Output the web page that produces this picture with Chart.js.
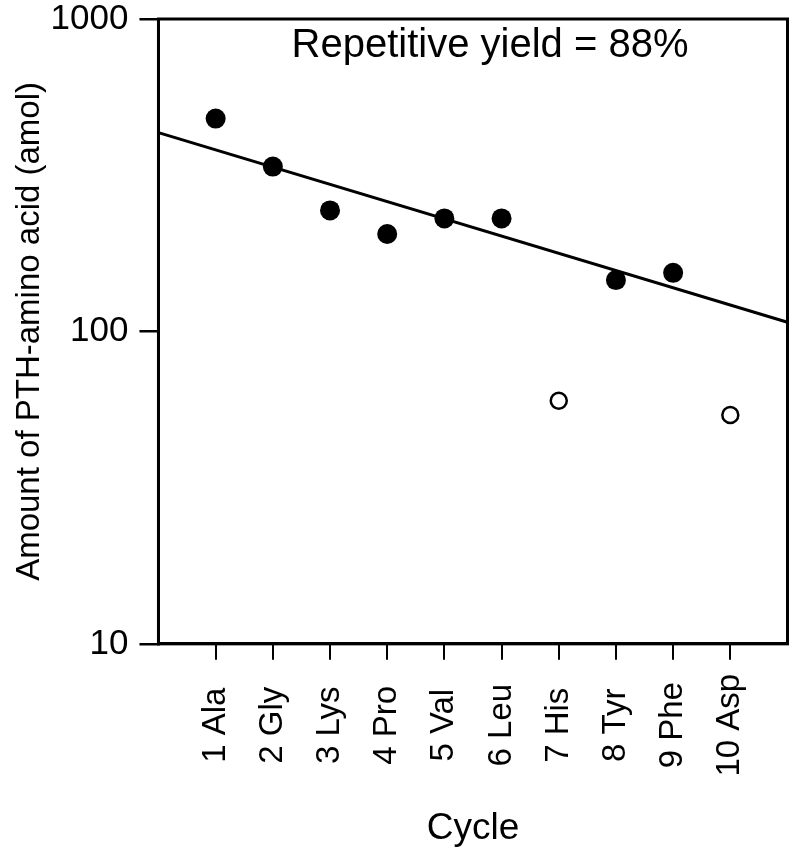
<!DOCTYPE html>
<html>
<head>
<meta charset="utf-8">
<script src="https://cdn.jsdelivr.net/npm/chart.js@4"></script>
<style>
  body { margin: 0; background: #fff; }
  #wrap { width: 798px; height: 857px; }
</style>
</head>
<body>
<div id="wrap"><canvas id="ex_chart"></canvas></div>
<script>
// data
const residues = ['1 Ala', '2 Gly', '3 Lys', '4 Pro', '5 Val', '6 Leu', '7 His', '8 Tyr', '9 Phe', '10 Asp'];
const cycles = [1, 2, 3, 4, 5, 6, 7, 8, 9, 10];
// filled circles (used in the fit)
const usedAmounts = [480, 337, 244, 205, 230, 230, null, 146, 154, null];
// open circles (left out of the fit)
const omittedAmounts = [null, null, null, null, null, null, 60, null, null, 54];
// regression line, repetitive yield 88%
const fitX = [0, 11];
const fitY = [433, 107];
const yTicks = [10, 100, 1000];

const FONT = 'Liberation Sans, Arial, sans-serif';
const X_TICK_FONT = '33px ' + FONT;
const X_TICK_LEN = 16;
const X_TICK_PAD = 14;

const toPoints = (xs, ys) => xs.map((x, i) => ({ x: x, y: ys[i] })).filter(p => p.y !== null);

// box around plot, annotation text, x labels centred on their own middle
const framePlugin = {
    id: 'frame',
    afterDraw(chart) {
        const { ctx, chartArea: a, scales } = chart;
        ctx.save();
        ctx.strokeStyle = '#000';
        ctx.lineWidth = 3;
        ctx.strokeRect(a.left, a.top, a.right - a.left, a.bottom - a.top);
        ctx.fillStyle = '#000';
        ctx.font = '40px ' + FONT;
        ctx.textAlign = 'center';
        ctx.textBaseline = 'middle';
        ctx.fillText('Repetitive yield = 88%', 490, a.top + 27);

        // rotated cycle labels, centred vertically like the original
        ctx.font = X_TICK_FONT;
        const widths = residues.map(r => ctx.measureText(r).width);
        const maxW = Math.max(...widths);
        const cy = a.bottom + X_TICK_LEN + X_TICK_PAD + maxW / 2;
        cycles.forEach((c, i) => {
            ctx.save();
            ctx.translate(scales.x.getPixelForValue(c), cy);
            ctx.rotate(-Math.PI / 2);
            ctx.textAlign = 'center';
            ctx.textBaseline = 'middle';
            ctx.fillText(residues[i], 0, 0);
            ctx.restore();
        });
        ctx.restore();
    }
};

const ctx = document.getElementById('ex_chart');

new Chart(ctx, {
    type: 'scatter',
    data: {
        datasets: [
            {
                label: 'fit',
                type: 'line',
                data: toPoints(fitX, fitY),
                borderColor: '#000',
                borderWidth: 3,
                pointRadius: 0,
                fill: false
            },
            {
                label: 'used',
                data: toPoints(cycles, usedAmounts),
                backgroundColor: '#000',
                borderColor: '#000',
                pointRadius: 10,
                borderWidth: 0
            },
            {
                label: 'omitted',
                data: toPoints(cycles, omittedAmounts),
                backgroundColor: '#fff',
                borderColor: '#000',
                pointRadius: 8,
                borderWidth: 2.5
            }
        ]
    },
    options: {
        responsive: true,
        maintainAspectRatio: false,
        animation: false,
        layout: { padding: { top: 19, right: 10, left: 4, bottom: 6 } },
        plugins: {
            legend: { display: false },
            tooltip: { enabled: false }
        },
        scales: {
            x: {
                type: 'linear',
                min: 0,
                max: 11,
                afterBuildTicks(axis) {
                    axis.ticks = cycles.map(v => ({ value: v }));
                },
                ticks: {
                    color: 'rgba(0,0,0,0)',   // drawn by the plugin, kept here for layout
                    font: { family: FONT, size: 33 },
                    minRotation: 90,
                    maxRotation: 90,
                    padding: X_TICK_PAD,
                    callback: (v) => residues[cycles.indexOf(v)]
                },
                grid: { drawOnChartArea: false, color: '#000', lineWidth: 2, tickLength: X_TICK_LEN },
                border: { color: '#000', width: 3 },
                title: {
                    display: true,
                    text: 'Cycle',
                    color: '#000',
                    font: { family: FONT, size: 37 },
                    padding: { top: 16, bottom: 0 }
                }
            },
            y: {
                type: 'logarithmic',
                min: 10,
                max: 1000,
                afterBuildTicks(axis) {
                    axis.ticks = yTicks.map(v => ({ value: v }));
                },
                afterFit(axis) {
                    axis.width -= 11;
                    axis.paddingTop = 0;
                },
                ticks: {
                    color: '#000',
                    font: { family: FONT, size: 35 },
                    padding: 11,
                    callback: (v) => String(v)
                },
                grid: { drawOnChartArea: false, color: '#000', lineWidth: 2.5, tickLength: 19 },
                border: { color: '#000', width: 3 },
                title: {
                    display: true,
                    text: 'Amount of PTH-amino acid (amol)',
                    color: '#000',
                    font: { family: FONT, size: 33 },
                    padding: { top: 6, bottom: 1 }
                }
            }
        }
    },
    plugins: [framePlugin]
});
</script>
</body>
</html>
